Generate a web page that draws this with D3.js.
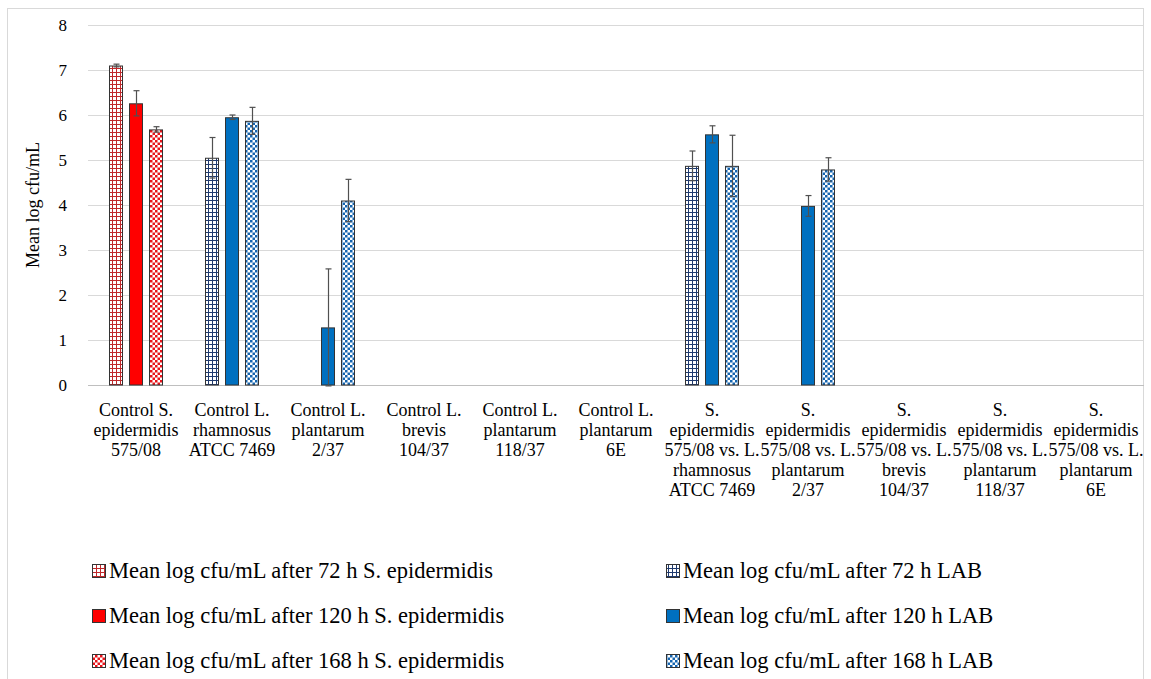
<!DOCTYPE html>
<html>
<head>
<meta charset="utf-8">
<script src="https://cdn.jsdelivr.net/npm/d3@7"></script>
<style>
  html, body { margin: 0; padding: 0; background: #fff; }
  svg { display: block; }
  text { font-family: "Liberation Serif", "Times New Roman", serif; fill: #000; }
</style>
</head>
<body>
<svg id="chart" width="1151" height="679"></svg>
<script>
// ---------- data ----------
const categories = [
  ["Control S.", "epidermidis", "575/08"],
  ["Control L.", "rhamnosus", "ATCC 7469"],
  ["Control L.", "plantarum", "2/37"],
  ["Control L.", "brevis", "104/37"],
  ["Control L.", "plantarum", "118/37"],
  ["Control L.", "plantarum", "6E"],
  ["S.", "epidermidis", "575/08 vs. L.", "rhamnosus", "ATCC 7469"],
  ["S.", "epidermidis", "575/08 vs. L.", "plantarum", "2/37"],
  ["S.", "epidermidis", "575/08 vs. L.", "brevis", "104/37"],
  ["S.", "epidermidis", "575/08 vs. L.", "plantarum", "118/37"],
  ["S.", "epidermidis", "575/08 vs. L.", "plantarum", "6E"]
];
const seriesNames = [
  "Mean log cfu/mL after 72 h S. epidermidis",
  "Mean log cfu/mL after 120 h S. epidermidis",
  "Mean log cfu/mL after 168 h S. epidermidis",
  "Mean log cfu/mL after 72 h LAB",
  "Mean log cfu/mL after 120 h LAB",
  "Mean log cfu/mL after 168 h LAB"
];
const epi72   = [7.10, null, null, null, null, null, null, null, null, null, null];
const epi120  = [6.26, null, null, null, null, null, null, null, null, null, null];
const epi168  = [5.68, null, null, null, null, null, null, null, null, null, null];
const lab72   = [null, 5.05, null, null, null, null, 4.87, null, null, null, null];
const lab120  = [null, 5.95, 1.28, null, null, null, 5.57, 3.98, null, null, null];
const lab168  = [null, 5.87, 4.10, null, null, null, 4.87, 4.79, null, null, null];
const epi72Err  = [0.03, 0, 0, 0, 0, 0, 0, 0, 0, 0, 0];
const epi120Err = [0.28, 0, 0, 0, 0, 0, 0, 0, 0, 0, 0];
const epi168Err = [0.06, 0, 0, 0, 0, 0, 0, 0, 0, 0, 0];
const lab72Err  = [0, 0.45, 0, 0, 0, 0, 0.33, 0, 0, 0, 0];
const lab120Err = [0, 0.05, 1.30, 0, 0, 0, 0.19, 0.23, 0, 0, 0];
const lab168Err = [0, 0.30, 0.47, 0, 0, 0, 0.68, 0.26, 0, 0, 0];
const yTicks = [0, 1, 2, 3, 4, 5, 6, 7, 8];
const yTitle = "Mean log cfu/mL";

// ---------- setup ----------
const svg = d3.select("#chart");
const M = { left: 88, right: 1144, top: 25, bottom: 385 };

const series = [
  { name: seriesNames[0], vals: epi72,  errs: epi72Err,  slot: 0, fill: "url(#gridRed)" },
  { name: seriesNames[1], vals: epi120, errs: epi120Err, slot: 1, fill: "#ff0000" },
  { name: seriesNames[2], vals: epi168, errs: epi168Err, slot: 2, fill: "url(#checkRed)" },
  { name: seriesNames[3], vals: lab72,  errs: lab72Err,  slot: 0, fill: "url(#gridBlue)" },
  { name: seriesNames[4], vals: lab120, errs: lab120Err, slot: 1, fill: "#0070c0" },
  { name: seriesNames[5], vals: lab168, errs: lab168Err, slot: 2, fill: "url(#checkBlue)" }
];

// patterns
const defs = svg.append("defs");
function gridPattern(id, color) {
  const p = defs.append("pattern").attr("id", id).attr("patternUnits", "userSpaceOnUse")
    .attr("width", 4).attr("height", 4);
  p.append("rect").attr("width", 4).attr("height", 4).attr("fill", "#fff");
  p.append("rect").attr("x", 0).attr("y", 0).attr("width", 4).attr("height", 1).attr("fill", color);
  p.append("rect").attr("x", 0).attr("y", 0).attr("width", 1).attr("height", 4).attr("fill", color);
}
function checkPattern(id, color) {
  const p = defs.append("pattern").attr("id", id).attr("patternUnits", "userSpaceOnUse")
    .attr("width", 5).attr("height", 5);
  p.append("rect").attr("width", 5).attr("height", 5).attr("fill", "#fff");
  p.append("rect").attr("x", 0).attr("y", 0).attr("width", 2.5).attr("height", 2.5).attr("fill", color);
  p.append("rect").attr("x", 2.5).attr("y", 2.5).attr("width", 2.5).attr("height", 2.5).attr("fill", color);
}
gridPattern("gridRed", "#c0282a");
checkPattern("checkRed", "#e8141a");
gridPattern("gridBlue", "#1f3a6e");
checkPattern("checkBlue", "#1565b0");

// frame
svg.append("rect").attr("x", 7.5).attr("y", 8.5).attr("width", 1136).attr("height", 690)
  .attr("fill", "none").attr("stroke", "#d9d9d9").attr("stroke-width", 1);

// scales
const x = d3.scaleBand().domain(d3.range(categories.length)).range([M.left, M.right]).paddingInner(0).paddingOuter(0);
const slotScale = d3.scaleBand().domain([0, 1, 2]).range([-27, 27]).paddingInner(0.3).paddingOuter(0);
const y = d3.scaleLinear().domain([0, 8]).range([M.bottom, M.top]);

// gridlines + y ticks
const yAxis = d3.axisLeft(y).tickValues(yTicks).tickSize(-(M.right - M.left)).tickPadding(21).tickFormat(d3.format("d"));
const gy = svg.append("g").attr("transform", `translate(${M.left},0)`).call(yAxis);
gy.select(".domain").remove();
gy.selectAll(".tick line").attr("stroke", d => d === 0 ? "#bfbfbf" : "#d9d9d9").attr("stroke-width", 1);
gy.selectAll(".tick text").style("font-family", "Liberation Serif, serif").style("font-size", "17px").attr("fill", "#000");

// y title
svg.append("text").attr("transform", `translate(39,${(M.top + M.bottom) / 2}) rotate(-90)`)
  .attr("text-anchor", "middle").style("font-size", "18px").text(yTitle);

// bars
const barsG = svg.append("g");
series.forEach(s => {
  const data = s.vals.map((v, i) => ({ i, v, e: s.errs[i] })).filter(d => d.v != null);
  barsG.selectAll(null).data(data).enter().append("rect")
    .attr("x", d => x(d.i) + x.bandwidth() / 2 + slotScale(s.slot) + 0.5)
    .attr("y", d => y(d.v) + 0.5)
    .attr("width", slotScale.bandwidth() - 1)
    .attr("height", d => y(0) - y(d.v) - 0.5)
    .attr("fill", s.fill)
    .attr("stroke", "#333")
    .attr("stroke-width", 1);
  // error bars
  const eg = barsG.selectAll(null).data(data.filter(d => d.e > 0)).enter().append("g")
    .attr("stroke", "#505050").attr("stroke-width", 1.2);
  const cx = d => Math.round(x(d.i) + x.bandwidth() / 2 + slotScale(s.slot) + slotScale.bandwidth() / 2) + 0.5;
  eg.append("line").attr("x1", cx).attr("x2", cx).attr("y1", d => y(d.v + d.e)).attr("y2", d => y(d.v - d.e));
  eg.append("line").attr("x1", d => cx(d) - 3).attr("x2", d => cx(d) + 3).attr("y1", d => y(d.v + d.e)).attr("y2", d => y(d.v + d.e));
  eg.append("line").attr("x1", d => cx(d) - 3).attr("x2", d => cx(d) + 3).attr("y1", d => y(d.v - d.e)).attr("y2", d => y(d.v - d.e));
});

// category labels
const catG = svg.append("g");
categories.forEach((lines, i) => {
  const t = catG.append("text").attr("text-anchor", "middle").style("font-size", "18px");
  lines.forEach((ln, k) => {
    t.append("tspan").attr("x", x(i) + x.bandwidth() / 2).attr("y", 416 + k * 20).text(ln);
  });
});

// legend
const legendPos = [
  { x: 92, y: 571 }, { x: 92, y: 616 }, { x: 92, y: 661 },
  { x: 666, y: 571 }, { x: 666, y: 616 }, { x: 666, y: 661 }
];
const lg = svg.append("g");
series.forEach((s, k) => {
  const p = legendPos[k];
  lg.append("rect").attr("x", p.x + 0.5).attr("y", p.y - 6.5).attr("width", 13).attr("height", 13)
    .attr("fill", s.fill).attr("stroke", "#333").attr("stroke-width", 1);
  lg.append("text").attr("x", p.x + 17).attr("y", p.y + 7).style("font-size", "22.5px").text(s.name);
});
</script>
</body>
</html>
